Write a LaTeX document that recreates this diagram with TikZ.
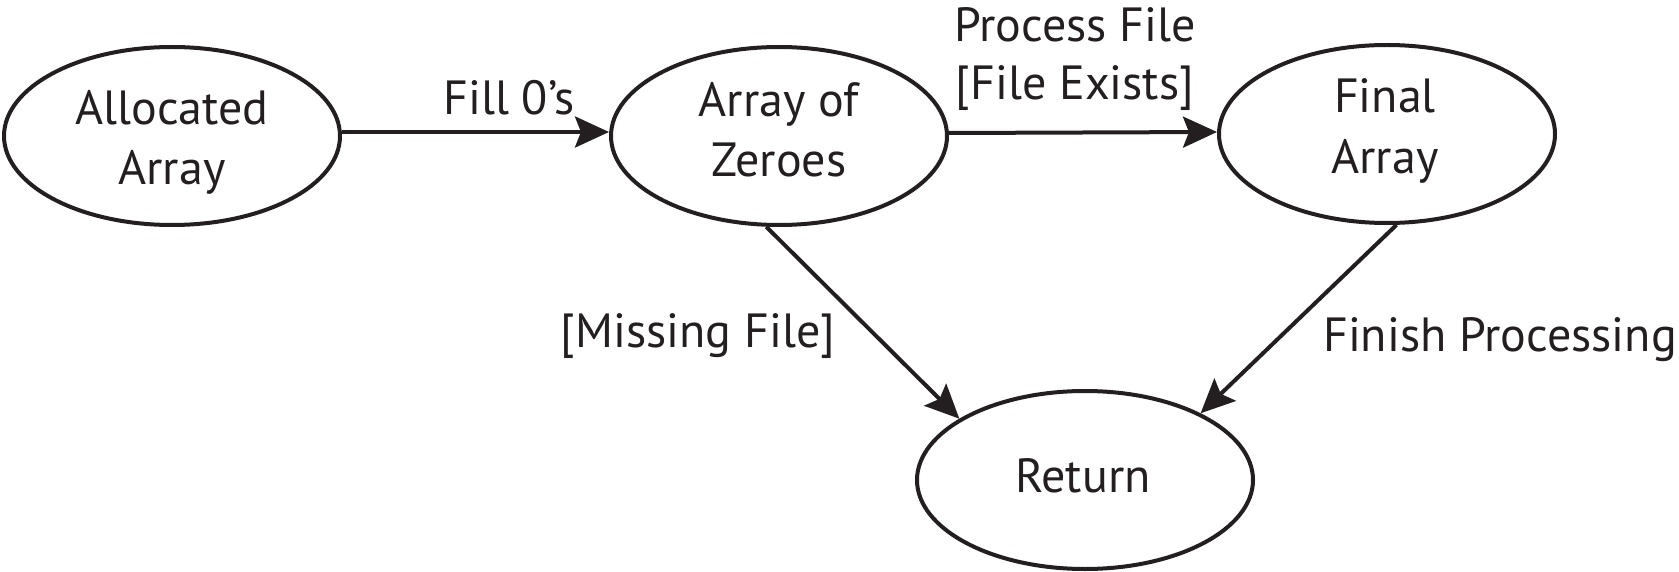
\documentclass[tikz,border=0pt]{standalone}
\usepackage{fontspec}
\setmainfont{PT Sans}
\usetikzlibrary{shapes.geometric,arrows.meta}
\definecolor{ink}{RGB}{35,31,32}
\begin{document}
\begin{tikzpicture}[x=1pt,y=-1pt,
  every node/.style={text=ink},
  state/.style={ellipse,draw=ink,line width=4pt,minimum width=336pt,minimum height=178pt,inner sep=0pt},
  lbl/.style={font=\fontsize{48}{59}\selectfont,inner sep=0pt,anchor=base},
  conn/.style={draw=ink,line width=4pt,-{Stealth[length=34pt,width=31pt,inset=6pt]}}]
\useasboundingbox (0,0) rectangle (1679,572);
\node[state] (e1) at (172,136) {};
\node[state] (e2) at (779,136) {};
\node[state] (e3) at (1387,134) {};
\node[state] (e4) at (1085,480) {};
% state texts
\node[lbl] (e1a) at (172,125) {Allocated};
\node[lbl] (e1b) at (172,185) {Array};
\node[lbl] (e2a) at (779,117) {Array of};
\node[lbl] (e2b) at (779,177) {Zeroes};
\node[lbl] (e3a) at (1385,113) {Final};
\node[lbl] (e3b) at (1385,174) {Array};
\node[lbl] (e4a) at (1083,492) {Return};
% connectors
\draw[conn] ([yshift=4pt]e1.east) -- ([yshift=4pt]e2.west);
\draw[conn] ([yshift=3pt]e2.east) -- ([yshift=2pt]e3.west);
\draw[conn] (e2.262) -- (e4.154);
\draw[conn] (e3.276) -- (e4.30);
% connector labels
\node[lbl] (l1) at (509,115) {Fill 0’s};
\node[lbl] (l2a) at (1075,42) {Process File};
\node[lbl] (l2b) at (1075,100) {[File Exists]};
\node[lbl] (l3) at (698,347) {[Missing File]};
\node[lbl,anchor=base east] (l4) at (1677,351) {Finish Processing};
\end{tikzpicture}
\end{document}
